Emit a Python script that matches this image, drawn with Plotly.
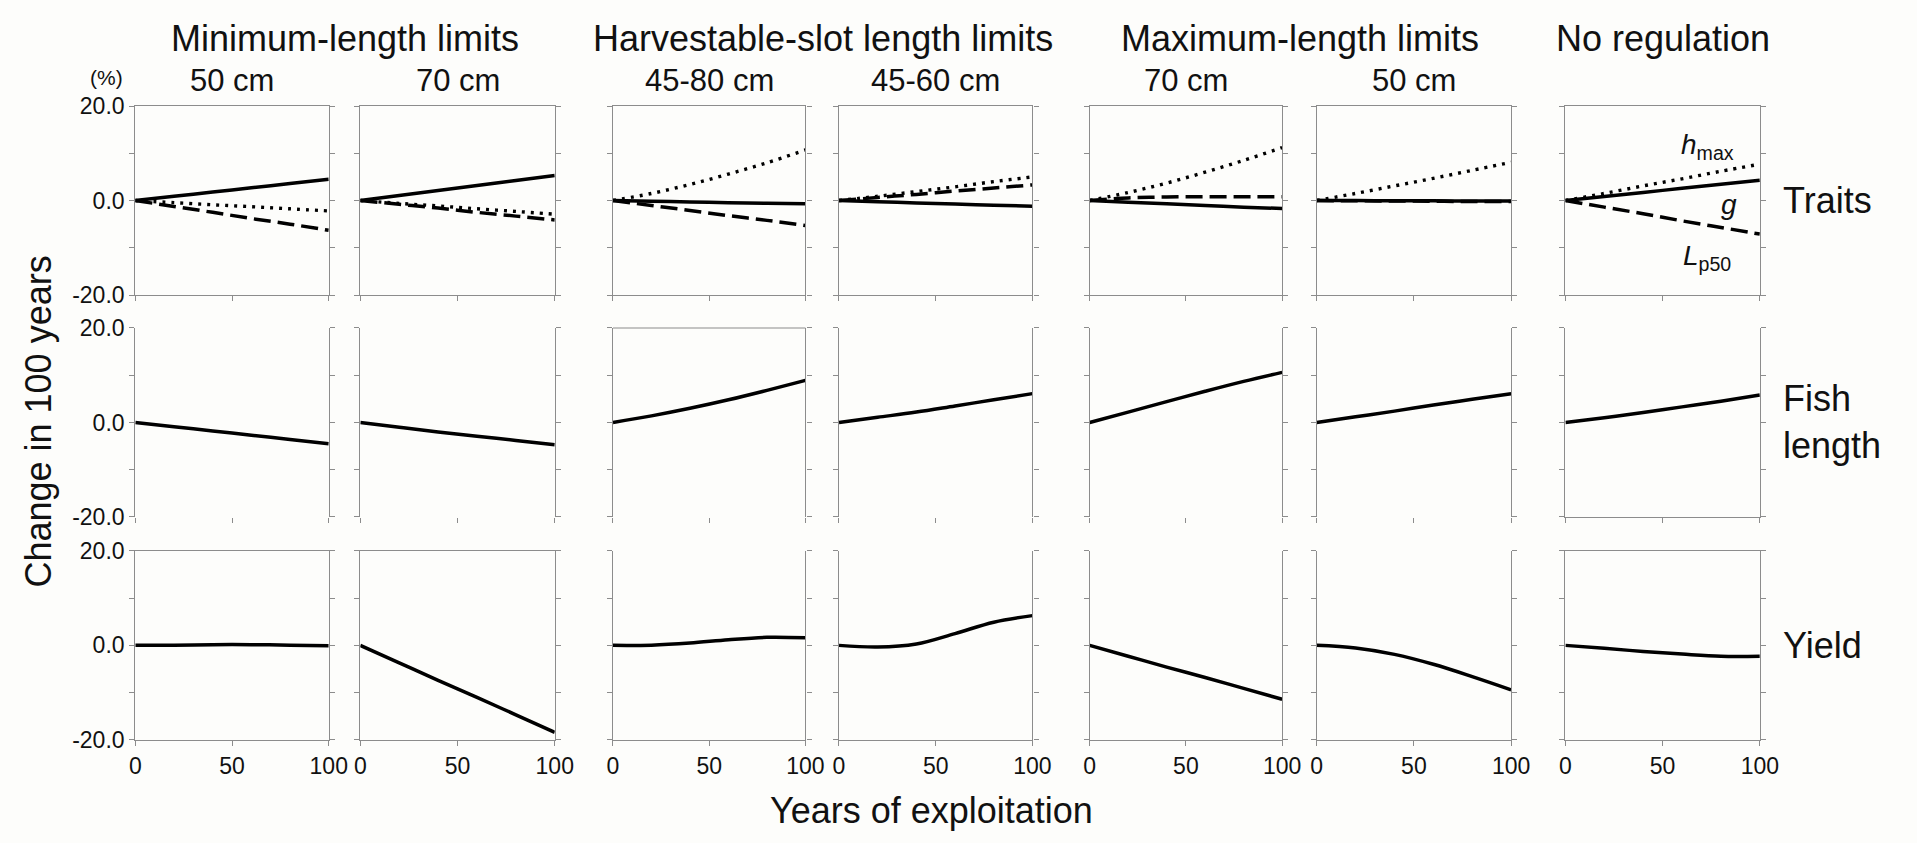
import plotly.graph_objects as go

W, H = 1917, 843

# ---------------- data ----------------
years = [0, 20, 40, 60, 80, 100]

group_titles = ["Minimum-length limits", "Harvestable-slot length limits",
                "Maximum-length limits", "No regulation"]
sub_titles = ["50 cm", "70 cm", "45-80 cm", "45-60 cm", "70 cm", "50 cm", ""]
row_labels = ["Traits", "Fish<br>length", "Yield"]

y_tick_vals = [-20, 0, 20]
y_tick_text = ["-20.0", "0.0", "20.0"]
y_minor_vals = [-10, 10]
x_tick_vals = [0, 50, 100]
x_tick_text = ["0", "50", "100"]

# Traits: g (solid), h_max (dotted), L_p50 (dashed) -- one list per panel
trait_g = [
    [0, 0.9, 1.8, 2.7, 3.6, 4.5],
    [0, 1.06, 2.12, 3.18, 4.24, 5.3],
    [0, -0.15, -0.3, -0.45, -0.6, -0.7],
    [0, -0.25, -0.5, -0.75, -1.0, -1.2],
    [0, -0.35, -0.7, -1.05, -1.4, -1.7],
    [0, 0.0, -0.05, -0.05, -0.1, -0.1],
    [0, 0.86, 1.72, 2.58, 3.44, 4.3],
]
trait_hmax = [
    [0, -0.45, -0.9, -1.3, -1.75, -2.2],
    [0, -0.6, -1.15, -1.75, -2.3, -2.9],
    [0, 1.5, 3.4, 5.6, 8.0, 10.7],
    [0, 0.9, 1.9, 2.9, 4.0, 5.0],
    [0, 1.7, 3.7, 6.0, 8.5, 11.2],
    [0, 1.5, 3.1, 4.7, 6.4, 8.1],
    [0, 1.5, 3.1, 4.6, 6.2, 7.7],
]
trait_lp50 = [
    [0, -1.25, -2.5, -3.8, -5.0, -6.3],
    [0, -0.8, -1.6, -2.5, -3.3, -4.1],
    [0, -1.05, -2.1, -3.2, -4.2, -5.3],
    [0, 0.65, 1.3, 2.0, 2.65, 3.3],
    [0, 0.55, 0.75, 0.8, 0.8, 0.8],
    [0, -0.05, -0.1, -0.15, -0.2, -0.2],
    [0, -1.4, -2.8, -4.3, -5.7, -7.1],
]
fish_length = [
    [0, -0.9, -1.8, -2.7, -3.6, -4.5],
    [0, -1.0, -2.0, -2.9, -3.8, -4.7],
    [0, 1.4, 3.0, 4.8, 6.8, 8.9],
    [0, 1.1, 2.2, 3.5, 4.8, 6.1],
    [0, 2.2, 4.4, 6.6, 8.7, 10.6],
    [0, 1.2, 2.4, 3.7, 4.9, 6.1],
    [0, 1.0, 2.1, 3.3, 4.5, 5.8],
]
yield_change = [
    [0, 0.05, 0.15, 0.15, 0.05, -0.1],
    [0, -3.7, -7.4, -11.0, -14.7, -18.4],
    [0, 0.05, 0.5, 1.2, 1.7, 1.6],
    [0, -0.35, 0.3, 2.5, 4.9, 6.3],
    [0, -2.3, -4.6, -6.8, -9.1, -11.4],
    [0, -0.55, -1.9, -4.0, -6.6, -9.4],
    [0, -0.6, -1.3, -1.85, -2.3, -2.3],
]

# ---------------- layout geometry ----------------
col_px = [(131, 327), (359, 556), (615, 810), (844, 1040),
          (1098, 1293), (1328, 1525), (1580, 1777)]
row_px = [(96, 291), (325, 520), (555, 750)]
# frame lines (top, bottom) per row/col, mimicking the original
frame_top = [[1] * 7, [0, 0, 1, 0, 0, 0, 0], [1, 1, 0, 0, 0, 0, 1]]
frame_bot = [[1] * 7, [0, 0, 0, 0, 0, 0, 1], [1] * 7]

FONT = "Liberation Sans, Arial, sans-serif"
AXC = "#8c8c8c"
INK = "#111111"

fig = go.Figure()

def ax_name(n, kind):
    return kind if n == 1 else f"{kind}{n}"

solid = dict(color="black", width=3.5)
dotted = dict(color="black", width=3.4, dash="3px,6px")
dashed = dict(color="black", width=3.5, dash="17px,7px")

for r in range(3):
    for c in range(7):
        n = r * 7 + c + 1
        xa, ya = ax_name(n, "x"), ax_name(n, "y")
        if r == 0:
            series = [(trait_hmax[c], dotted), (trait_lp50[c], dashed), (trait_g[c], solid)]
        elif r == 1:
            series = [(fish_length[c], solid)]
        else:
            series = [(yield_change[c], solid)]
        for vals, ln in series:
            fig.add_trace(go.Scatter(x=years, y=vals, mode="lines", line=ln,
                                     line_shape="spline", xaxis=xa, yaxis=ya,
                                     showlegend=False, hoverinfo="skip"))
        l, rr = col_px[c]
        t, b = row_px[r]
        top, bot = frame_top[r][c], frame_bot[r][c]
        xkw = dict(domain=[l / W, rr / W], range=[0, 100], anchor=ya,
                   tickvals=x_tick_vals, ticktext=x_tick_text,
                   showticklabels=(r == 2), ticks="outside", ticklen=5,
                   tickcolor=AXC, tickwidth=1, showgrid=False, zeroline=False,
                   showline=bool(bot), linecolor=AXC, linewidth=1.2,
                   mirror=bool(top and bot),
                   tickfont=dict(family=FONT, size=23, color=INK), fixedrange=True)
        ykw = dict(domain=[1 - b / H, 1 - t / H], range=[-20, 20], anchor=xa,
                   tickvals=y_tick_vals, ticktext=y_tick_text,
                   showticklabels=(c == 0), ticks="outside", ticklen=5,
                   tickcolor=AXC, tickwidth=1, showgrid=False, zeroline=False,
                   minor=dict(tickvals=y_minor_vals, ticks="outside", ticklen=5,
                              tickcolor=AXC, tickwidth=1, showgrid=False),
                   showline=True, linecolor=AXC, linewidth=1.2, mirror="ticks",
                   tickfont=dict(family=FONT, size=23, color=INK), fixedrange=True)
        fig.update_layout({("xaxis" if n == 1 else f"xaxis{n}"): xkw,
                           ("yaxis" if n == 1 else f"yaxis{n}"): ykw})
        if top and not bot:
            fig.add_shape(type="line", xref="paper", yref="paper",
                          x0=l / W, x1=rr / W, y0=1 - t / H, y1=1 - t / H,
                          line=dict(color=AXC, width=1.2))

annotations = []
# group titles
groups = [(0, 1), (2, 3), (4, 5), (6, 6)]
for title, (c0, c1) in zip(group_titles, groups):
    cx = (col_px[c0][0] + col_px[c1][1]) / 2
    annotations.append(dict(text=title, x=cx / W, y=1 - 26 / H, xref="paper", yref="paper",
                            showarrow=False, xanchor="center", yanchor="middle",
                            font=dict(family=FONT, size=36, color=INK)))
# sub titles
for c, st in enumerate(sub_titles):
    if st:
        cx = (col_px[c][0] + col_px[c][1]) / 2
        annotations.append(dict(text=st, x=cx / W, y=1 - 70 / H, xref="paper", yref="paper",
                                showarrow=False, xanchor="center", yanchor="middle",
                                font=dict(family=FONT, size=31, color=INK)))
# unit
annotations.append(dict(text="(%)", x=102 / W, y=1 - 67 / H, xref="paper", yref="paper",
                        showarrow=False, xanchor="center", yanchor="middle",
                        font=dict(family=FONT, size=21, color=INK)))
# row labels
for r, lab in enumerate(row_labels):
    cy = (row_px[r][0] + row_px[r][1]) / 2
    annotations.append(dict(text=lab, x=1798 / W, y=1 - cy / H, xref="paper", yref="paper",
                            showarrow=False, xanchor="left", yanchor="middle", align="left",
                            font=dict(family=FONT, size=36, color=INK)))
# axis titles
annotations.append(dict(text="Change in 100 years", x=33 / W, y=1 - 422 / H, xref="paper",
                        yref="paper", showarrow=False, textangle=-90,
                        xanchor="center", yanchor="middle",
                        font=dict(family=FONT, size=36, color=INK)))
annotations.append(dict(text="Years of exploitation", x=938 / W, y=1 - 823 / H, xref="paper",
                        yref="paper", showarrow=False, xanchor="center", yanchor="middle",
                        font=dict(family=FONT, size=36, color=INK)))
# trait labels in last traits panel
for txt, xv, yv in [("<i>h</i><sub>max</sub>", 73, 11.5),
                    ("<i>g</i>", 84, -0.8),
                    ("<i>L</i><sub>p50</sub>", 73, -12.0)]:
    annotations.append(dict(text=txt, x=xv, y=yv, xref="x7", yref="y7", showarrow=False,
                            xanchor="center", yanchor="middle",
                            font=dict(family=FONT, size=28, color=INK)))

fig.update_layout(width=W, height=H, margin=dict(l=0, r=0, t=0, b=0),
                  paper_bgcolor="#fdfdfb", plot_bgcolor="#fdfdfb",
                  annotations=annotations, showlegend=False)

fig.write_html("out.html", config={"displayModeBar": False})
